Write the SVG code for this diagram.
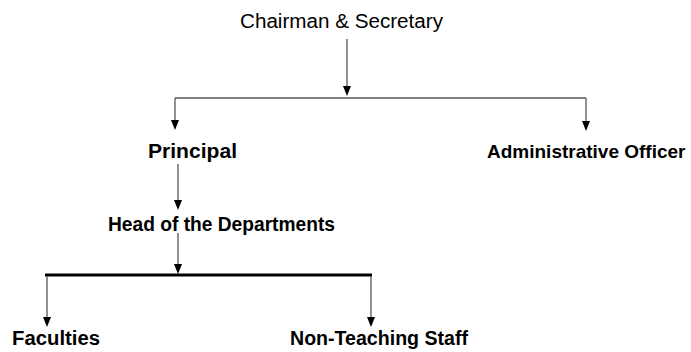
<svg xmlns="http://www.w3.org/2000/svg" width="691" height="352" viewBox="0 0 691 352">
<style>
.t{font-family:"Liberation Sans",Arial,sans-serif;fill:#000}
.r{font-size:20px}
.b{font-size:20px;font-weight:bold}
.c{fill:none;stroke:#555;stroke-width:1.3}
.k{fill:none;stroke:#000;stroke-width:3}
</style>
<rect width="691" height="352" fill="#fff"/>
<g id="connectors">
<path class="c" d="M347,39 V90"/>
<path class="c" d="M175,98 H586"/>
<path class="c" d="M175,98 V124"/>
<path class="c" d="M586,98 V125"/>
<path class="c" d="M178,164 V204"/>
<path class="c" d="M178,233 V268"/>
<path class="k" d="M45,275 H372"/>
<path class="c" d="M47,276 V321"/>
<path class="c" d="M371,276 V321"/>
<g id="arrowheads" fill="#000">
<polygon points="343,86 351,86 347,96"/>
<polygon points="171,120 179,120 175,130"/>
<polygon points="582,121 590,121 586,131"/>
<polygon points="174,200 182,200 178,210"/>
<polygon points="174,264 182,264 178,274"/>
<polygon points="43,317 51,317 47,327"/>
<polygon points="367,317 375,317 371,327"/>
</g>
</g>
<g id="chairman"><text class="t r" x="240" y="28" textLength="203" lengthAdjust="spacingAndGlyphs">Chairman &amp; Secretary</text></g>
<g id="principal"><text class="t b" x="148" y="158" textLength="89" lengthAdjust="spacingAndGlyphs">Principal</text></g>
<g id="admin"><text class="t b" x="487" y="158" style="font-size:19px">Administrative Officer</text></g>
<g id="hod"><text class="t b" x="108" y="231" textLength="227" lengthAdjust="spacingAndGlyphs">Head of the Departments</text></g>
<g id="faculties"><text class="t b" x="12" y="345" textLength="88" lengthAdjust="spacingAndGlyphs">Faculties</text></g>
<g id="nonteaching"><text class="t b" x="290" y="345" textLength="178" lengthAdjust="spacingAndGlyphs">Non-Teaching Staff</text></g>
</svg>
